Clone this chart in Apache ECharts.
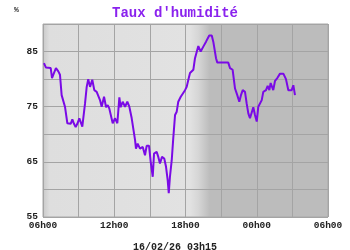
<!DOCTYPE html>
<html>
<head>
<meta charset="utf-8">
<script src="https://cdn.jsdelivr.net/npm/echarts@6/dist/echarts.min.js"></script>
<style>html,body{margin:0;padding:0;background:#fff}#c{width:350px;height:250px}</style>
</head>
<body>
<div id="c"></div>
<script>
// hours elapsed since 06h00 on the start day
const hours = [0.08,0.25,0.65,0.76,0.87,1.09,1.29,1.43,1.57,1.71,1.85,2.05,2.33,2.47,2.61,2.75,2.89,3.06,3.17,3.31,3.39,3.54,3.68,3.81,3.96,4.15,4.32,4.52,4.80,4.94,5.14,5.31,5.45,5.58,5.73,5.87,6.06,6.26,6.43,6.54,6.71,6.91,7.10,7.27,7.47,7.75,7.83,7.97,8.17,8.40,8.59,8.73,8.93,9.07,9.24,9.35,9.57,9.71,9.85,10.02,10.21,10.36,10.50,10.59,10.69,10.84,10.97,11.12,11.26,11.39,11.60,11.76,11.96,12.10,12.24,12.38,12.66,12.80,13.08,13.28,13.50,13.73,13.84,14.00,14.21,14.34,14.57,14.68,15.60,15.75,15.97,16.17,16.36,16.53,16.67,16.82,17.01,17.15,17.29,17.43,17.57,17.71,17.85,18.00,18.13,18.27,18.42,18.55,18.78,18.92,19.06,19.17,19.39,19.54,19.73,19.96,20.24,20.46,20.66,20.94,21.08,21.22];
const humidity = [82.9,82.1,82.0,80.2,80.8,82.0,81.4,80.8,77.1,76.8,75.0,72.0,71.9,72.7,71.9,71.3,71.9,72.9,72.9,71.4,71.1,75.6,78.6,80.0,78.6,79.9,78.0,77.7,76.2,75.0,76.8,74.9,75.3,74.7,75.0,72.0,72.9,72.0,76.7,74.9,75.9,75.0,75.9,75.0,72.9,69.0,67.4,68.3,67.4,67.7,66.2,67.9,67.9,65.0,62.3,66.5,66.8,65.9,64.7,65.9,65.6,64.1,61.7,59.3,62.3,65.3,69.3,73.5,74.1,75.9,76.8,76.5,78.0,78.6,79.9,81.1,81.7,83.8,86.0,85.0,85.9,86.8,86.8,87.9,87.9,86.8,83.8,83.0,83.0,82.0,81.7,78.3,77.1,75.9,77.1,78.0,77.7,75.6,73.8,72.9,73.2,74.9,73.5,72.3,75.0,74.7,76.2,77.7,78.0,78.8,78.0,79.3,78.0,79.7,80.2,81.0,81.0,80.0,78.0,78.0,78.9,77.1];
const xTickLabels = ['06h00','09h00','12h00','15h00','18h00','21h00','00h00','03h00','06h00'];
const yTickLabels = ['55','','65','','75','','85',''];
const titleText = "Taux d'humidit\u00e9";
const unitText = '%';
const stampText = '16/02/26 03h15';

const chart = echarts.init(document.getElementById('c'), null, {renderer:'canvas'});
const mono = '"Liberation Mono", "DejaVu Sans Mono", monospace';
chart.setOption({
  animation: false,
  backgroundColor: '#ffffff',
  title: [
    {text: titleText, left: 'center', top: 1, textStyle:{fontFamily: mono, fontWeight:'bold', fontSize:14, color:'#8a22ee'}},
    {text: unitText, left: 9, top: 1, textStyle:{fontFamily: mono, fontWeight:'bold', fontSize:8, color:'#333'}},
    {text: stampText, left: 'center', top: 237, textStyle:{fontFamily: mono, fontWeight:'bold', fontSize:10, color:'#222'}}
  ],
  grid: {
    left: 43, right: 22, top: 24, bottom: 33, show: true,
    borderColor: '#a9a9a9', borderWidth: 1,
    backgroundColor: new echarts.graphic.LinearGradient(0,0,1,0,[
      {offset:0, color:'#c8c8c8'},
      {offset:0.025, color:'#dedede'},
      {offset:0.515, color:'#e2e2e2'},
      {offset:0.545, color:'#d6d6d6'},
      {offset:0.585, color:'#bcbcbc'},
      {offset:1, color:'#bcbcbc'}
    ])
  },
  xAxis: {
    type: 'value', min: 0, max: 24, interval: 3,
    axisLine: {show:false}, axisTick: {show:false},
    splitLine: {show:true, lineStyle:{color:'#a4a4a4', width:1}},
    axisLabel: {
      margin: 4, fontFamily: mono, fontWeight:'bold', fontSize: 9.5, color:'#222',
      formatter: v => { const i = Math.round(v/3); return (i % 2 === 0) ? xTickLabels[i] : ''; }
    }
  },
  yAxis: {
    type: 'value', min: 55, max: 90, interval: 5,
    axisLine: {show:false}, axisTick: {show:false},
    splitLine: {show:true, lineStyle:{color:'#a4a4a4', width:1}},
    axisLabel: {
      margin: 5, fontFamily: mono, fontWeight:'bold', fontSize: 9.5, color:'#222',
      formatter: v => yTickLabels[Math.round((v-55)/5)] || ''
    }
  },
  series: [{
    type: 'line', showSymbol: false,
    data: hours.map((h,i) => [h, humidity[i]]),
    lineStyle: {color:'#7a0ae6', width: 2},
    itemStyle: {color:'#7a0ae6'}
  }]
});
</script>
</body>
</html>
